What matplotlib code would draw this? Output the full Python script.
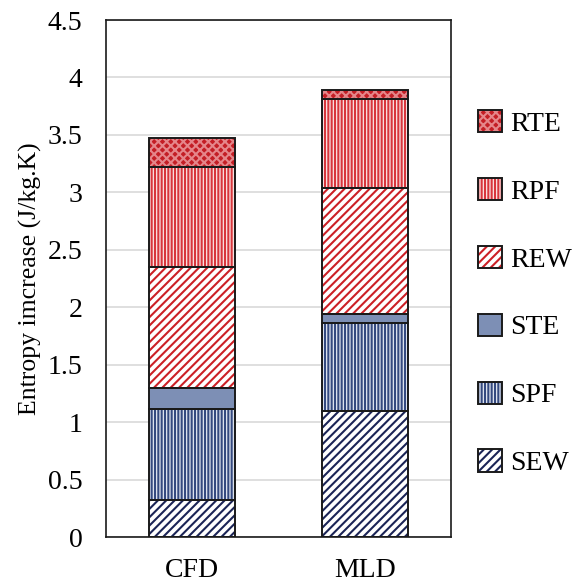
import matplotlib
matplotlib.use("Agg")
import matplotlib.pyplot as plt
from matplotlib.patches import Patch
import numpy as np

categories = ["CFD", "MLD"]
components = ["SEW", "SPF", "STE", "REW", "RPF", "RTE"]
sew = [0.32, 1.10]
spf = [0.79, 0.76]
ste = [0.19, 0.08]
rew = [1.05, 1.10]
rpf = [0.87, 0.77]
rte = [0.25, 0.08]
yticks = [0, 0.5, 1, 1.5, 2, 2.5, 3, 3.5, 4, 4.5]
ytick_labels = ["0", "0.5", "1", "1.5", "2", "2.5", "3", "3.5", "4", "4.5"]

series = [sew, spf, ste, rew, rpf, rte]

# (face colour, hatch pattern, hatch colour) per component
styles = {
    "SEW": ("white", "////", "#1B2456"),
    "SPF": ("#E3E8F2", "|||||", "#34497F"),
    "STE": ("#7D8FB5", "", "#7D8FB5"),
    "REW": ("white", "////", "#CC2026"),
    "RPF": ("#FBE6E6", "|||||", "#D8363C"),
    "RTE": ("#C41E25", "xxxx", "#E5868A"),
}

plt.rcParams["font.family"] = ["Liberation Serif", "DejaVu Serif"]
plt.rcParams["hatch.linewidth"] = 1.5

fig = plt.figure(figsize=(5.76, 5.82), dpi=100)
ax = fig.add_axes([0.184, 0.0773, 0.599, 0.8883])

x = np.arange(len(categories))
width = 0.5
bottom = np.zeros(len(categories))
handles = {}
for name, vals in zip(components, series):
    face, hatch, hcol = styles[name]
    vals = np.array(vals)
    ax.bar(x, vals, width, bottom=bottom, color=face, edgecolor=hcol,
           hatch=hatch, linewidth=0, zorder=2)
    ax.bar(x, vals, width, bottom=bottom, fill=False, edgecolor="#1a1a1a",
           linewidth=1.4, zorder=3)
    bottom += vals
    handles[name] = (
        Patch(facecolor=face, edgecolor=hcol, hatch=hatch, linewidth=0),
        Patch(fill=False, edgecolor="#1a1a1a", linewidth=1.4),
    )

fs = 20
ax.set_xlim(-0.5, 1.5)
ax.set_ylim(0, 4.5)
ax.set_xticks(x)
ax.set_xticklabels(categories, fontsize=fs)
ax.set_yticks(yticks)
ax.set_yticklabels(ytick_labels, fontsize=fs)
ax.tick_params(axis="y", length=0, pad=17)
ax.tick_params(axis="x", length=0, pad=15)
ax.yaxis.grid(True, color="#d9d9d9", linewidth=1.2, zorder=0)
ax.set_axisbelow(True)
for s in ax.spines.values():
    s.set_color("#1a1a1a")
    s.set_linewidth(1.2)
ax.set_ylabel("Entropy imcrease (J/kg.K)", fontsize=18.5, labelpad=4)

order = ["RTE", "RPF", "REW", "STE", "SPF", "SEW"]
fig.legend([handles[n] for n in order], order, loc="upper left",
           bbox_to_anchor=(0.811, 0.830), frameon=False, fontsize=fs,
           handlelength=0.86, handleheight=0.86, handletextpad=0.3,
           labelspacing=1.48, borderaxespad=0)

fig.savefig("out.png", dpi=100)
